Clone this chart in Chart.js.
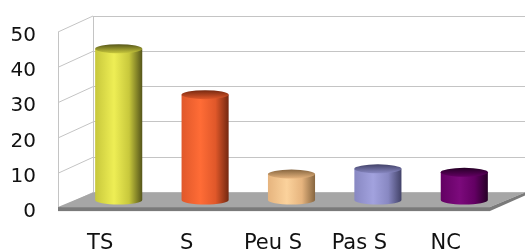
<!DOCTYPE html>
<html>
<head>
<meta charset="utf-8">
<script src="https://cdn.jsdelivr.net/npm/chart.js@4/dist/chart.umd.min.js"></script>
<style>
  html, body { margin: 0; padding: 0; background: #fff; }
  #wrap { width: 525px; height: 252px; }
</style>
</head>
<body>
<div id="wrap"><canvas id="chart" width="525" height="252"></canvas></div>
<script>
// Data
const categories = ['TS', 'S', 'Peu S', 'Pas S', 'NC'];
const values     = [43, 30, 7.5, 9, 8];
const yTicks     = [0, 10, 20, 30, 40, 50];

// Couleurs des cylindres (clair, moyen, sombre)
const lightCols = ['#eeee55', '#ff6c36', '#fbd29c', '#a2a2de', '#7c0a7c'];
const midCols   = ['#c8c83c', '#e0582a', '#e6b47e', '#8888c2', '#630063'];
const darkCols  = ['#55551a', '#742810', '#876640', '#424268', '#260026'];

// Profondeur 3D : décalage vers l'avant
const DX = -35, DY = 16;

const decor3d = {
    id: 'decor3d',
    beforeDatasetsDraw(chart) {
        const { ctx, chartArea: a, scales: { y } } = chart;
        ctx.save();
        // mur gauche : diagonales + arête avant
        ctx.strokeStyle = '#c4c4c4';
        ctx.lineWidth = 1;
        yTicks.forEach(t => {
            const py = y.getPixelForValue(t);
            ctx.beginPath();
            ctx.moveTo(a.left + DX, py + DY);
            ctx.lineTo(a.left, py);
            ctx.stroke();
        });
        ctx.beginPath();
        ctx.moveTo(a.left + DX + 0.5, y.getPixelForValue(50) + DY);
        ctx.lineTo(a.left + DX + 0.5, y.getPixelForValue(0) + DY);
        ctx.stroke();

        // plancher
        const b = y.getPixelForValue(0);
        const fx0 = a.left + DX, fx1 = a.right + DX;
        ctx.fillStyle = '#a6a6a6';
        ctx.beginPath();
        ctx.moveTo(fx0, b + DY - 1.5);
        ctx.lineTo(fx1, b + DY - 1.5);
        ctx.lineTo(a.right, b);
        ctx.lineTo(a.left, b);
        ctx.closePath();
        ctx.fill();
        ctx.fillStyle = '#7a7a7a';
        ctx.fillRect(fx0, b + DY - 1.5, fx1 - fx0, 4);
        ctx.beginPath();
        ctx.moveTo(fx1, b + DY - 1.5);
        ctx.lineTo(a.right, b);
        ctx.lineTo(a.right, b + 3);
        ctx.lineTo(fx1, b + DY + 2.5);
        ctx.closePath();
        ctx.fill();
        ctx.restore();
    },
    afterDatasetsDraw(chart) {
        const { ctx } = chart;
        const meta = chart.getDatasetMeta(0);
        const ry = 4.5;
        ctx.save();
        meta.data.forEach((bar, i) => {
            const cx = bar.x + DX / 2;
            const top = bar.y + DY / 2;
            const bot = bar.base + DY / 2;
            const rx = bar.width / 2;
            const g = ctx.createLinearGradient(cx - rx, 0, cx + rx, 0);
            g.addColorStop(0, midCols[i]);
            g.addColorStop(0.4, lightCols[i]);
            g.addColorStop(0.72, midCols[i]);
            g.addColorStop(1, darkCols[i]);
            // corps
            ctx.fillStyle = g;
            ctx.beginPath();
            ctx.moveTo(cx - rx, top);
            ctx.lineTo(cx - rx, bot);
            ctx.ellipse(cx, bot, rx, ry, 0, Math.PI, 0, true);
            ctx.lineTo(cx + rx, top);
            ctx.closePath();
            ctx.fill();
            // couvercle
            const gc = ctx.createLinearGradient(0, top - ry, 0, top + ry);
            gc.addColorStop(0, darkCols[i]);
            gc.addColorStop(1, midCols[i]);
            ctx.fillStyle = gc;
            ctx.beginPath();
            ctx.ellipse(cx, top, rx, ry, 0, 0, Math.PI * 2);
            ctx.fill();
        });
        ctx.restore();
    }
};

new Chart(document.getElementById('chart'), {
    type: 'bar',
    data: {
        labels: categories,
        datasets: [{
            data: values,
            backgroundColor: 'rgba(0,0,0,0)',
            borderWidth: 0,
            barPercentage: 0.545,
            categoryPercentage: 1
        }]
    },
    options: {
        responsive: false,
        animation: false,
        devicePixelRatio: 1,
        layout: { padding: { top: 16, right: 0, left: 0, bottom: 0 } },
        plugins: { legend: { display: false }, tooltip: { enabled: false } },
        scales: {
            x: {
                grid: { display: false, drawTicks: true, tickLength: 38 },
                border: { display: false },
                ticks: {
                    color: '#111',
                    font: { family: 'DejaVu Sans', size: 21 },
                    padding: 0,
                    labelOffset: -36,
                    maxRotation: 0
                },
                afterFit: s => { s.height = 59.4; }
            },
            y: {
                min: 0,
                max: 50,
                afterBuildTicks: s => { s.ticks = yTicks.map(v => ({ value: v })); },
                grid: { color: '#c4c4c4', drawTicks: true, tickLength: 57, tickColor: 'rgba(0,0,0,0)' },
                border: { display: true, color: '#c4c4c4' },
                ticks: {
                    color: '#111',
                    font: { family: 'DejaVu Sans', size: 20 },
                    padding: 0,
                    labelOffset: 19.5
                },
                afterFit: s => { s.width = 93; }
            }
        }
    },
    plugins: [decor3d]
});
</script>
</body>
</html>
